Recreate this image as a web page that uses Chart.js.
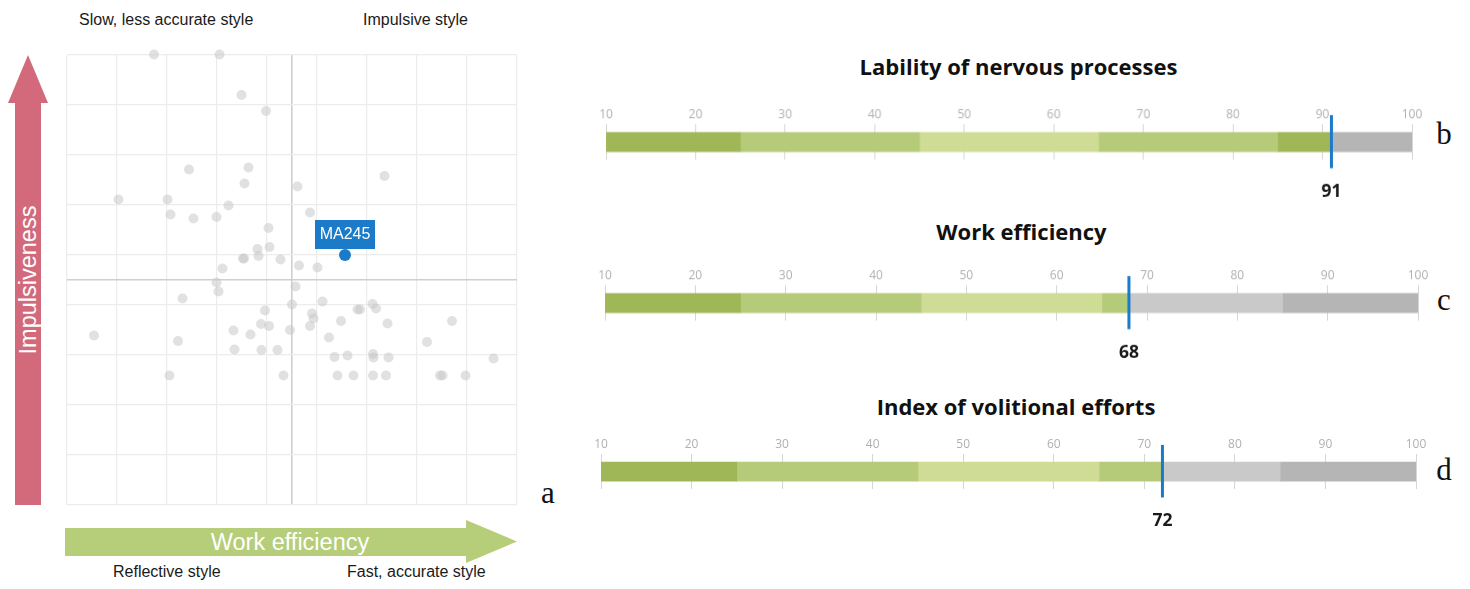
<!DOCTYPE html>
<html>
<head>
<meta charset="utf-8">
<script src="https://cdn.jsdelivr.net/npm/chart.js@4.4.1/dist/chart.umd.min.js"></script>
<style>
    html, body { margin: 0; padding: 0; background: #fff; }
    #page { position: relative; width: 1470px; height: 589px; overflow: hidden; font-family: "Liberation Sans", Arial, sans-serif; }
    .abs { position: absolute; }
    .note { position: absolute; font-size: 16px; color: #1a1a1a; transform: translateY(-50%); white-space: nowrap; }
    .letter { position: absolute; font-family: "Liberation Serif", serif; font-size: 31px; color: #111; transform: translate(-50%, -50%); }
    .gtitle { position: absolute; font-family: "Open Sans", sans-serif; font-weight: 700; font-size: 22px; color: #111; transform: translate(-50%, -50%); white-space: nowrap; }
    .arrow-text { position: absolute; color: #fff; font-size: 23.5px; white-space: nowrap; transform: translate(-50%, -50%); }
</style>
</head>
<body>
<div id="page">
    <svg class="abs" style="left:0;top:0" width="1470" height="589">
        <polygon points="28,55 48,103 41,103 41,505 15,505 15,103 8,103" fill="#d26a7c"/>
        <polygon points="65,528 466,528 466,520 517,541.5 466,563 466,556 65,556" fill="#b6cd79"/>
    </svg>
    <div class="arrow-text" style="left:28px;top:280px;transform:translate(-50%,-50%) rotate(-90deg)">Impulsiveness</div>
    <div class="arrow-text" style="left:290px;top:542px">Work efficiency</div>

    <div class="note" style="left:79px;top:20px">Slow, less accurate style</div>
    <div class="note" style="left:363px;top:20px">Impulsive style</div>
    <div class="note" style="left:113px;top:572px">Reflective style</div>
    <div class="note" style="left:347px;top:572px">Fast, accurate style</div>

    <canvas id="scatter" class="abs" style="left:57px;top:45px;width:470px;height:470px"></canvas>
    <div class="letter" style="left:548px;top:493px">a</div>
</div>

<script>
/*               data                */

// group of tested people (work efficiency, impulsiveness), 0..90
const groupX = [17.4, 30.5, 34.9, 39.8, 24.4, 36.3, 35.5, 46.1, 63.5, 10.3, 20.1, 32.3, 20.7, 25.3, 29.9,
    48.6, 40.3, 38.1, 40.5, 38.3, 35.2, 35.4, 42.7, 31.1, 46.4, 50.1, 29.9, 30.3, 23.1, 45.7,
    45.0, 39.6, 38.8, 40.4, 44.6, 33.3, 36.7, 5.4, 22.2, 33.5, 38.9, 42.1, 20.5, 43.3, 51.1,
    49.0, 49.3, 48.6, 58.1, 58.6, 61.1, 61.8, 54.8, 64.1, 77.0, 52.4, 72.0, 53.5, 56.1, 61.2,
    61.3, 64.3, 85.3, 54.1, 57.3, 61.2, 63.8, 74.6, 75.1, 79.7];
const groupY = [90.1, 90.1, 82.0, 78.8, 67.1, 67.5, 64.3, 63.7, 65.8, 61.1, 61.1, 59.9, 58.1, 57.3, 57.6,
    58.5, 55.4, 51.2, 51.6, 49.8, 49.3, 49.3, 49.1, 47.3, 47.9, 47.5, 44.5, 42.7, 41.3, 43.7,
    40.1, 38.9, 36.2, 35.8, 35.0, 34.9, 34.1, 33.9, 32.8, 31.1, 31.0, 31.0, 25.9, 25.9, 40.7,
    38.3, 37.3, 35.8, 39.1, 39.1, 40.2, 39.3, 36.8, 36.3, 36.8, 33.5, 32.6, 29.6, 29.9, 30.2,
    29.5, 29.5, 29.3, 25.9, 25.9, 25.9, 25.9, 25.9, 25.9, 25.9];

const personName = 'MA245';
const personX = 55.6;
const personY = 50.0;

const gaugeTitles = ['Lability of nervous processes', 'Work efficiency', 'Index of volitional efforts'];
const gaugeValues = [91, 68, 72];
const gaugeLetters = ['b', 'c', 'd'];
const zoneEdges = [10, 25, 45, 65, 85, 100];
const zoneShades = [0, 1, 2, 1, 0];   // 0 dark, 1 medium, 2 light

/*               colours and layout                */

const blue = '#1b7bc8';
const greens = ['#9fb757', '#b6cb79', '#cfdc96'];
const greys = ['#b5b5b5', '#c9c9c9', '#d6d6d6'];

// pixel placement of each gauge: left (10), right (100), top and bottom of tick area, title centre
const gaugeBoxes = [
    {x10: 606, x100: 1411.7, top: 124.5, bottom: 160, titleX: 1018.5, titleY: 66, letterY: 134},
    {x10: 604.7, x100: 1417.7, top: 285.7, bottom: 320.7, titleX: 1021.5, titleY: 231, letterY: 300},
    {x10: 600.7, x100: 1416, top: 454, bottom: 489, titleX: 1016, titleY: 406, letterY: 470}
];

/*               scatter                */

const labelPlugin = {
    id: 'personLabel',
    afterDatasetsDraw(chart) {
        let pt = chart.getDatasetMeta(1).data[0];
        let c = chart.ctx;
        c.save();
        c.fillStyle = blue;
        c.fillRect(pt.x - 30, pt.y - 35, 60, 29);
        c.fillStyle = '#fff';
        c.font = '16px "Liberation Sans", Arial, sans-serif';
        c.textAlign = 'center';
        c.textBaseline = 'middle';
        c.fillText(personName, pt.x, pt.y - 20);
        c.restore();
    }
};

function gridColor(ctx) {
    let v = ctx.tick.value;
    if (v === 45) return '#cfcfcf';
    if (v % 10 === 0) return '#ececec';
    return 'rgba(0,0,0,0)';
}

let scatterAxis = {
    min: 0,
    max: 90,
    ticks: {display: false, stepSize: 5},
    border: {display: false},
    grid: {drawTicks: false, color: gridColor, lineWidth: ctx => ctx.tick.value === 45 ? 1.6 : 1.2}
};

new Chart(document.getElementById('scatter'), {
    type: 'scatter',
    data: {
        datasets: [{
            data: groupX.map((x, i) => ({x: x, y: groupY[i]})),
            backgroundColor: 'rgba(200,200,200,0.55)',
            borderWidth: 0,
            pointRadius: 5,
            clip: false
        }, {
            data: [{x: personX, y: personY}],
            backgroundColor: blue,
            borderWidth: 0,
            pointRadius: 6,
            clip: false
        }]
    },
    options: {
        responsive: false,
        animation: false,
        layout: {padding: 10},
        plugins: {legend: {display: false}, tooltip: {enabled: false}},
        scales: {x: scatterAxis, y: scatterAxis}
    },
    plugins: [labelPlugin]
});

/*               gauges                */

const markerPlugin = {
    id: 'marker',
    afterDatasetsDraw(chart) {
        let value = chart.options.plugins.marker.value;
        let x = chart.scales.x.getPixelForValue(value);
        let area = chart.chartArea;
        let c = chart.ctx;
        c.save();
        c.strokeStyle = blue;
        c.lineWidth = 3;
        c.beginPath();
        c.moveTo(x, area.top - 9.5);
        c.lineTo(x, area.bottom + 8.5);
        c.stroke();
        c.fillStyle = '#1a1a1a';
        c.font = 'bold 17.5px "Open Sans", sans-serif';
        c.textAlign = 'center';
        c.textBaseline = 'middle';
        c.fillText(String(value), x, area.bottom + 32);
        c.restore();
    }
};

function segmentsFor(value) {
    let segs = [];
    for (let i = 0; i < zoneShades.length; i++) {
        let a = zoneEdges[i], b = zoneEdges[i + 1];
        if (value > a) segs.push({from: a, to: Math.min(value, b), color: greens[zoneShades[i]]});
        if (value < b) segs.push({from: Math.max(value, a), to: b, color: greys[zoneShades[i]]});
    }
    return segs;
}

const page = document.getElementById('page');
const padX = 20, padTop = 6, padBottom = 45, axisH = 20.4;

gaugeTitles.forEach(function (title, g) {
    let box = gaugeBoxes[g];

    let t = document.createElement('div');
    t.className = 'gtitle';
    t.style.left = box.titleX + 'px';
    t.style.top = box.titleY + 'px';
    t.textContent = title;
    page.appendChild(t);

    let l = document.createElement('div');
    l.className = 'letter';
    l.style.left = '1444px';
    l.style.top = box.letterY + 'px';
    l.textContent = gaugeLetters[g];
    page.appendChild(l);

    let cv = document.createElement('canvas');
    cv.className = 'abs';
    let left = box.x10 - padX;
    let top = box.top - axisH - padTop;
    let w = box.x100 - box.x10 + 2 * padX;
    let h = box.bottom + padBottom - top;
    cv.style.left = left + 'px';
    cv.style.top = top + 'px';
    cv.style.width = w + 'px';
    cv.style.height = h + 'px';
    page.appendChild(cv);

    let segs = segmentsFor(gaugeValues[g]);
    new Chart(cv, {
        type: 'bar',
        data: {
            labels: [''],
            datasets: segs.map(s => ({
                data: [[s.from, s.to]],
                backgroundColor: s.color,
                borderWidth: 0,
                barThickness: 19,
                grouped: false
            }))
        },
        options: {
            indexAxis: 'y',
            responsive: false,
            animation: false,
            layout: {padding: {left: padX, right: padX, top: padTop, bottom: padBottom}},
            plugins: {legend: {display: false}, tooltip: {enabled: false}, marker: {value: gaugeValues[g]}},
            scales: {
                x: {
                    position: 'top',
                    min: 10,
                    max: 100,
                    ticks: {stepSize: 10, color: '#b0b0b0', font: {family: 'Open Sans', size: 12}, padding: 3},
                    border: {display: false},
                    grid: {drawTicks: false, color: '#d6d6d6', lineWidth: 1}
                },
                y: {display: false}
            }
        },
        plugins: [markerPlugin]
    });
});
</script>
</body>
</html>
